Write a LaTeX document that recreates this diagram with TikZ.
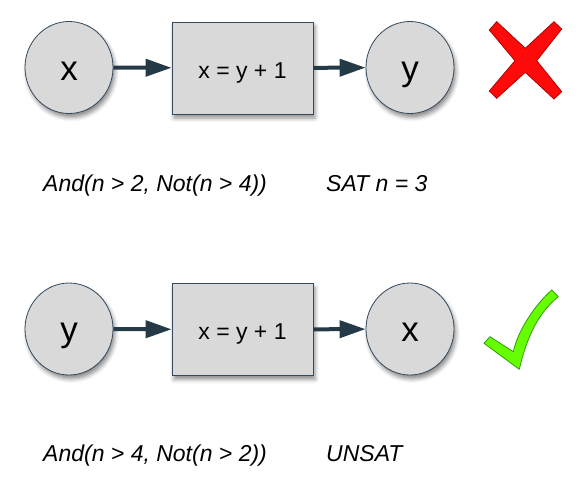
\documentclass[tikz,border=0pt]{standalone}
\usepackage{fontspec}
\setmainfont{Liberation Sans}
\usetikzlibrary{arrows.meta,shapes.geometric,shadows.blur}
\definecolor{nodefill}{HTML}{D9D9D9}
\definecolor{nodeedge}{HTML}{34495E}
\definecolor{arrowcol}{HTML}{253A47}
\definecolor{xred}{HTML}{FF0A0A}
\definecolor{xredd}{HTML}{B00000}
\definecolor{chkgreen}{HTML}{66FF00}
\definecolor{chkdark}{HTML}{2E9E00}
\tikzset{
  myshadow/.style={blur shadow={shadow xshift=2pt, shadow yshift=-4pt, shadow blur radius=4pt, shadow opacity=45}},
  varnode/.style={ellipse, draw=nodeedge, fill=nodefill, line width=0.8pt, minimum width=88pt, minimum height=92pt, inner sep=0pt, text height=25pt, text depth=0pt, font=\fontsize{35}{40}\selectfont, myshadow},
  opnode/.style={rectangle, draw=nodeedge, fill=nodefill, line width=0.8pt, minimum width=141pt, minimum height=92pt, inner sep=0pt, text height=20pt, text depth=0pt, font=\fontsize{23}{27}\selectfont, myshadow},
  flow/.style={draw=arrowcol, line width=4pt, -{Triangle[length=26pt,width=17pt]}},
  formula/.style={anchor=base west, inner sep=0pt, font=\fontsize{23}{27}\selectfont\itshape}
}
\begin{document}
\begin{tikzpicture}[x=1pt,y=-1pt]
\useasboundingbox (0,0) rectangle (583,488);
% top row
\node[varnode] (x1) at (69,67.5) {x};
\node[opnode] (b1) at (242.5,68) {x = y + 1};
\node[varnode] (y1) at (410,67.5) {y};
\draw[flow] (x1) -- (b1);
\draw[flow] (b1) -- (y1);
% red cross
\draw[fill=xred, draw=xredd, line width=0.8pt, line join=miter]
  (489.3,30) -- (496.7,21.7) -- (525.3,48.3) -- (554,21.7) -- (561.7,29) --
  (536.7,60.7) -- (561.7,91.7) -- (554,99) -- (525.3,72.3) -- (496.7,98.3) --
  (489.3,91) -- (515,60.7) -- cycle;
\node[formula] (f1) at (43,191) {And(n > 2, Not(n > 4))};
\node[formula] (s1) at (326,191) {SAT n = 3};
% bottom row
\node[varnode] (y2) at (69,329) {y};
\node[opnode] (b2) at (242.5,329.5) {x = y + 1};
\node[varnode] (x2) at (410,329) {x};
\draw[flow] (y2) -- (b2);
\draw[flow] (b2) -- (x2);
% green check
\draw[fill=chkgreen, draw=chkdark, line width=0.8pt, line join=round]
  (490,336.7) -- (484,343.3) -- (519.3,369.3)
  .. controls (525,345) and (535,315) .. (558.3,296.7)
  -- (551.7,290)
  .. controls (535,305) and (518,330) .. (513.3,351.7) -- cycle;
\node[formula] (f2) at (43,461.7) {And(n > 4, Not(n > 2))};
\node[formula] (s2) at (326,461.7) {UNSAT};
\end{tikzpicture}
\end{document}
